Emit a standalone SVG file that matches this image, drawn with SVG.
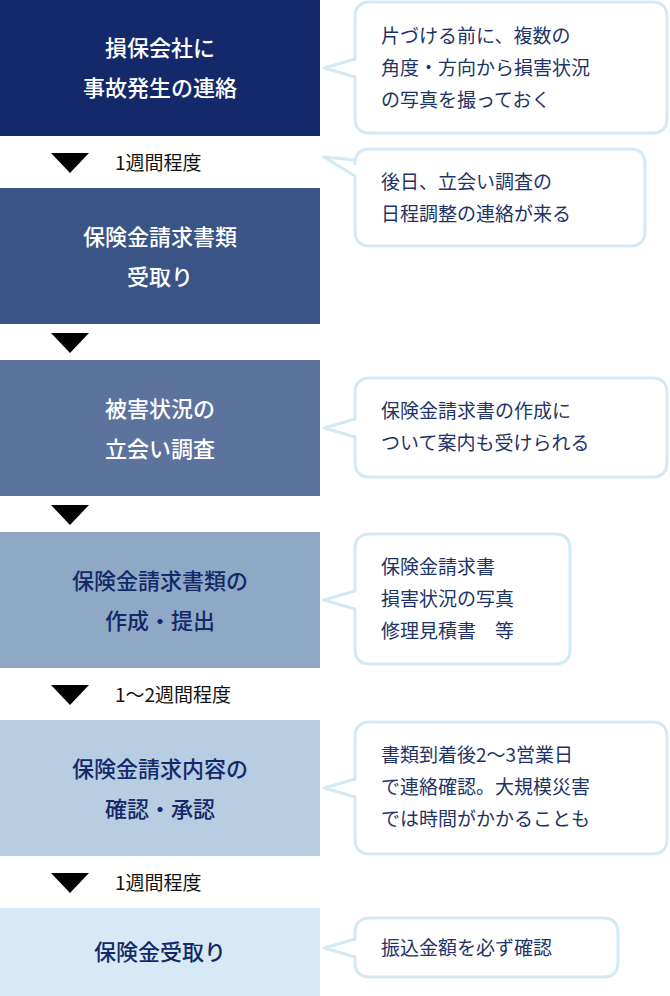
<svg xmlns="http://www.w3.org/2000/svg" width="670" height="996" viewBox="0 0 670 996">
<style>
.bt{font-family:"Noto Sans CJK JP","Noto Sans",sans-serif;font-size:22px;text-anchor:middle;font-weight:500}
.w{fill:#fff}.n{fill:#132a68}
.bub{fill:#fff;stroke:#d5e9f5;stroke-width:3;stroke-linejoin:round}
.st{font-family:"Noto Sans CJK JP","Noto Sans",sans-serif;font-size:19px;fill:#1e3466}
.lb{font-family:"Noto Sans CJK JP","Noto Sans",sans-serif;font-size:19px;fill:#111}
</style>
<rect width="670" height="996" fill="#fff"/>
<g id="step1"><rect x="0" y="0" width="320" height="136" fill="#13296a"/><text class="bt w" x="160" y="56">損保会社に</text><text class="bt w" x="160" y="96">事故発生の連絡</text></g>
<g id="step2"><rect x="0" y="188" width="320" height="136" fill="#3a5585"/><text class="bt w" x="160" y="245">保険金請求書類</text><text class="bt w" x="160" y="285">受取り</text></g>
<g id="step3"><rect x="0" y="360" width="320" height="136" fill="#5b739d"/><text class="bt w" x="160" y="417">被害状況の</text><text class="bt w" x="160" y="457">立会い調査</text></g>
<g id="step4"><rect x="0" y="532" width="320" height="136" fill="#8fa8c6"/><text class="bt n" x="160" y="589">保険金請求書類の</text><text class="bt n" x="160" y="629">作成・提出</text></g>
<g id="step5"><rect x="0" y="720" width="320" height="136" fill="#b6cde2"/><text class="bt n" x="160" y="777">保険金請求内容の</text><text class="bt n" x="160" y="817">確認・承認</text></g>
<g id="step6"><rect x="0" y="908" width="320" height="88" fill="#d6e9f5"/><text class="bt n" x="160" y="960">保険金受取り</text></g>
<g id="connectors" fill="#000">
<polygon points="51,153 89,153 70,173"/>
<polygon points="51,333 89,333 70,353"/>
<polygon points="51,505 89,505 70,525"/>
<polygon points="51,685 89,685 70,705"/>
<polygon points="51,873 89,873 70,893"/>
<text class="lb" x="115" y="170">1週間程度</text>
<text class="lb" x="115" y="702">1～2週間程度</text>
<text class="lb" x="115" y="890">1週間程度</text>
</g>
<g id="note1"><path class="bub" d="M370,2 H652 Q667,2 667,17 V118 Q667,133 652,133 H370 Q355,133 355,118 V77 L324,68 L355,59 V17 Q355,2 370,2 Z"/>
<text class="st" x="381" y="43">片づける前に、複数の</text><text class="st" x="381" y="75">角度・方向から損害状況</text><text class="st" x="381" y="107">の写真を撮っておく</text></g>
<g id="note2"><path class="bub" d="M370,149 H630 Q645,149 645,164 V231 Q645,246 630,246 H370 Q355,246 355,231 V176 L324,157 L355,160 V164 Q355,149 370,149 Z"/>
<text class="st" x="381" y="189">後日、立会い調査の</text><text class="st" x="381" y="221">日程調整の連絡が来る</text></g>
<g id="note3"><path class="bub" d="M370,378 H652 Q667,378 667,393 V462 Q667,477 652,477 H370 Q355,477 355,462 V437 L324,428 L355,419 V393 Q355,378 370,378 Z"/>
<text class="st" x="381" y="418">保険金請求書の作成に</text><text class="st" x="381" y="450">ついて案内も受けられる</text></g>
<g id="note4"><path class="bub" d="M370,534 H555 Q570,534 570,549 V649 Q570,664 555,664 H370 Q355,664 355,649 V609 L324,600 L355,591 V549 Q355,534 370,534 Z"/>
<text class="st" x="381" y="574">保険金請求書</text><text class="st" x="381" y="606">損害状況の写真</text><text class="st" x="381" y="638">修理見積書　等</text></g>
<g id="note5"><path class="bub" d="M370,722 H652 Q667,722 667,737 V839 Q667,854 652,854 H370 Q355,854 355,839 V797 L324,788 L355,779 V737 Q355,722 370,722 Z"/>
<text class="st" x="381" y="762">書類到着後2～3営業日</text><text class="st" x="381" y="794">で連絡確認。大規模災害</text><text class="st" x="381" y="826">では時間がかかることも</text></g>
<g id="note6"><path class="bub" d="M370,918 H603 Q618,918 618,933 V962 Q618,977 603,977 H370 Q355,977 355,962 V957 L324,948 L355,939 V933 Q355,918 370,918 Z"/>
<text class="st" x="381" y="955">振込金額を必ず確認</text></g>
</svg>
